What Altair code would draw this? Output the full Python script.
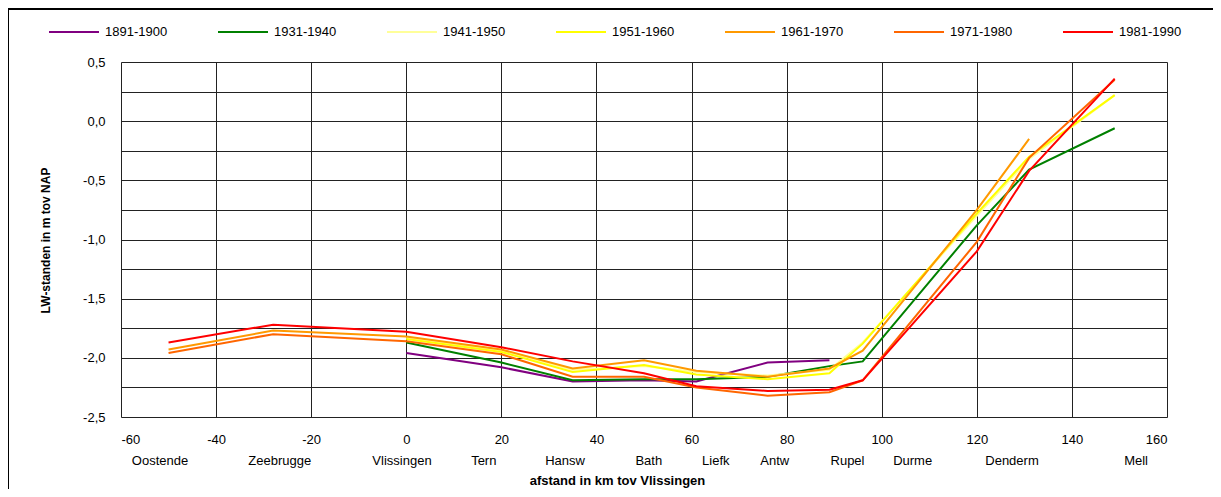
import altair as alt
import pandas as pd

# --- data ---
km = [-50, -28, 0, 20, 35, 50, 61, 76, 89, 96, 120, 131, 149]
N = None
s1891 = [N, N, -1.96, -2.08, -2.20, -2.19, -2.20, -2.04, -2.02, N, N, N, N]
s1931 = [N, N, -1.87, -2.04, -2.19, -2.18, -2.18, -2.16, -2.07, -2.03, -0.88, -0.41, -0.06]
s1941 = [N, N, -1.83, -1.94, -2.10, -2.07, -2.12, -2.15, -2.10, -1.87, -0.80, -0.32, 0.22]
s1951 = [N, N, -1.84, -1.95, -2.12, -2.06, -2.14, -2.18, -2.13, -1.88, -0.78, -0.30, 0.22]
s1961 = [-1.93, -1.77, -1.82, -1.93, -2.09, -2.02, -2.11, -2.16, -2.09, -1.94, -0.75, -0.15, N]
s1971 = [-1.96, -1.80, -1.86, -1.97, -2.16, -2.16, -2.25, -2.32, -2.29, -2.19, -1.02, -0.31, 0.35]
s1981 = [-1.87, -1.72, -1.78, -1.91, -2.03, -2.13, -2.24, -2.28, -2.27, -2.19, -1.10, -0.42, 0.36]

series_names = ["1891-1900", "1931-1940", "1941-1950", "1951-1960",
                "1961-1970", "1971-1980", "1981-1990"]
series_values = [s1891, s1931, s1941, s1951, s1961, s1971, s1981]
series_colors = ["#800080", "#008000", "#FFFF99", "#FFFF00",
                 "#FF9900", "#FF6600", "#FF0000"]

stations = ["Oostende", "Zeebrugge", "Vlissingen", "Tern", "Hansw", "Bath",
            "Liefk", "Antw", "Rupel", "Durme", "Denderm", "Mell"]
station_km = [-51.8, -26.6, -0.9, 16.3, 33.4, 51.0, 65.1, 77.5, 92.8, 106.5, 127.4, 153.5]

x_ticks = [-60, -40, -20, 0, 20, 40, 60, 80, 100, 120, 140, 160]
y_grid = [-2.5, -2.25, -2.0, -1.75, -1.5, -1.25, -1.0, -0.75, -0.5, -0.25, 0.0, 0.25, 0.5]

rows = []
for name, vals in zip(series_names, series_values):
    for k, v in zip(km, vals):
        if v is not None:
            rows.append({"km": k, "lw": v, "periode": name})
df = pd.DataFrame(rows)
st = pd.DataFrame({"station": stations, "km": station_km})

FONT = "Liberation Sans"
W, H = 1046, 355

x_scale = alt.Scale(domain=[-60, 160], nice=False, zero=False)
y_scale = alt.Scale(domain=[-2.5, 0.5], nice=False, zero=False)

lines = alt.Chart(df).mark_line(strokeWidth=2).encode(
    x=alt.X("km:Q", scale=x_scale,
            axis=alt.Axis(values=x_ticks, title="afstand in km tov Vlissingen",
                          labelExpr="toString(datum.value)",
                          ticks=False, domain=False, labelPadding=16,
                          labelFontSize=13, labelFont=FONT, labelColor="#000",
                          titleFont=FONT, titleFontSize=13, titleFontWeight="bold",
                          titleColor="#000", titleX=496, titleY=63,
                          titleBaseline="middle",
                          grid=True, gridColor="#222", gridOpacity=1, gridWidth=1)),
    y=alt.Y("lw:Q", scale=y_scale,
            axis=alt.Axis(values=y_grid, title="LW-standen in m tov NAP",
                          labelExpr="abs(round(datum.value*4)) % 2 == 0 ? replace(replace(format(datum.value, '.1f'), '\u2212', '-'), '.', ',') : ''",
                          ticks=False, domain=False, labelPadding=16,
                          labelFontSize=13, labelFont=FONT, labelColor="#000",
                          titleFont=FONT, titleFontSize=12, titleFontWeight="bold",
                          titleColor="#000", titleX=-76, titleY=178,
                          titleBaseline="middle",
                          grid=True, gridColor="#222", gridOpacity=1, gridWidth=1)),
    color=alt.Color("periode:N",
                    scale=alt.Scale(domain=series_names, range=series_colors),
                    legend=alt.Legend(title=None, orient="none", direction="horizontal",
                                      legendX=-73, legendY=-56,
                                      symbolType="stroke", symbolSize=2500,
                                      symbolStrokeWidth=2, labelFont=FONT,
                                      labelFontSize=13, labelColor="#000",
                                      labelOffset=5, columnPadding=46,
                                      columns=7)),
    order=alt.Order("km:Q"),
)

station_text = alt.Chart(st).mark_text(
    font=FONT, fontSize=13, color="#000", baseline="middle", align="center"
).encode(
    x=alt.X("km:Q", scale=x_scale),
    y=alt.value(H + 44),
    text="station:N",
)

frame_top = alt.Chart(st).mark_rule(color="#000", strokeWidth=1).encode(
    x=alt.value(-113), x2=alt.value(W + 60), y=alt.value(-53)
)
frame_left = alt.Chart(st).mark_rule(color="#000", strokeWidth=1).encode(
    x=alt.value(-112.5), y=alt.value(-53), y2=alt.value(H + 80)
)

chart = alt.layer(lines, station_text, frame_top, frame_left).properties(
    width=W, height=H,
    padding={"left": 113, "top": 54, "right": 46, "bottom": 72},
    autosize=alt.AutoSizeParams(type="none"),
).configure_view(
    fill="#FFFFCC", stroke="#000", strokeWidth=1
).configure(background="#FFFFFF")

chart.save("out.html", embed_options={"renderer": "svg", "actions": False})
